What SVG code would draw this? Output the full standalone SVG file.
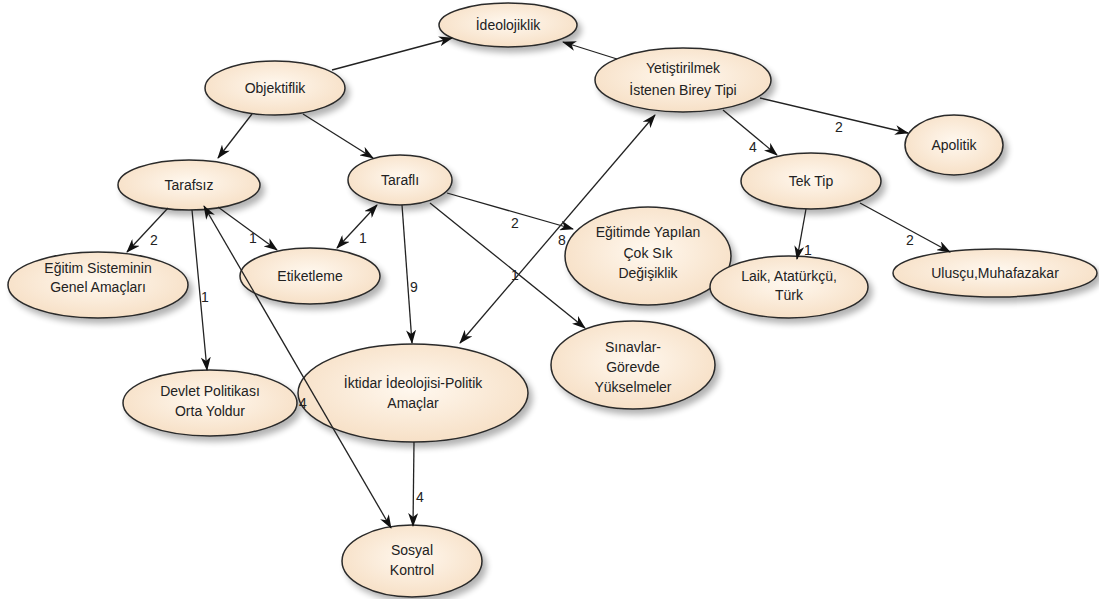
<svg xmlns="http://www.w3.org/2000/svg" width="1099" height="599" viewBox="0 0 1099 599">
<style>
.n ellipse{fill:url(#g);stroke:#2a2a2a;stroke-width:1.5;filter:url(#sh)}
.n text{font-family:"Liberation Sans",Arial,sans-serif;font-size:14px;fill:#222;text-anchor:middle}
.e line{stroke:#222;stroke-width:1.3;fill:none}
.a{marker-end:url(#ah)}
.b{marker-start:url(#as);marker-end:url(#ah)}
.lb{font-family:"Liberation Sans",Arial,sans-serif;font-size:14px;fill:#222;text-anchor:middle}
</style>
<defs>
<radialGradient id="g" cx="50%" cy="45%" r="60%">
<stop offset="0" stop-color="#fff8ef"/>
<stop offset="1" stop-color="#f6dec3"/>
</radialGradient>
<filter id="sh" x="-20%" y="-20%" width="150%" height="160%">
<feGaussianBlur in="SourceAlpha" stdDeviation="3"/>
<feOffset dx="4" dy="5" result="o"/>
<feComponentTransfer><feFuncA type="linear" slope="0.3"/></feComponentTransfer>
<feMerge><feMergeNode/><feMergeNode in="SourceGraphic"/></feMerge>
</filter>
<marker id="ah" viewBox="0 0 14 10" refX="13" refY="5" markerWidth="14" markerHeight="10" markerUnits="userSpaceOnUse" orient="auto">
<path d="M0,0 L14,5 L0,10 L4,5 z" fill="#111"/>
</marker>
<marker id="as" viewBox="0 0 14 10" refX="1" refY="5" markerWidth="14" markerHeight="10" markerUnits="userSpaceOnUse" orient="auto">
<path d="M14,0 L0,5 L14,10 L10,5 z" fill="#111"/>
</marker>
</defs>
<rect width="1099" height="599" fill="#fff"/>

<g id="nodes">
<g id="n-ideolojiklik" class="n"><ellipse cx="508" cy="25" rx="69" ry="22"/><text x="508" y="30">İdeolojiklik</text></g>
<g id="n-objektiflik" class="n"><ellipse cx="275" cy="88" rx="70" ry="27"/><text x="275" y="93">Objektiflik</text></g>
<g id="n-yetistirilmek" class="n"><ellipse cx="683" cy="80" rx="88" ry="32"/><text x="683" y="73">Yetiştirilmek</text><text x="683" y="95">İstenen Birey Tipi</text></g>
<g id="n-apolitik" class="n"><ellipse cx="954" cy="145" rx="49" ry="30"/><text x="954" y="150">Apolitik</text></g>
<g id="n-tektip" class="n"><ellipse cx="811" cy="181" rx="70" ry="28"/><text x="811" y="186">Tek Tip</text></g>
<g id="n-tarafsiz" class="n"><ellipse cx="189" cy="185" rx="71" ry="25"/><text x="189" y="190">Tarafsız</text></g>
<g id="n-tarafli" class="n"><ellipse cx="400" cy="180" rx="52" ry="25"/><text x="400" y="185">Taraflı</text></g>
<g id="n-egitimsistem" class="n"><ellipse cx="98" cy="285" rx="90" ry="33"/><text x="98" y="273">Eğitim Sisteminin</text><text x="98" y="292">Genel Amaçları</text></g>
<g id="n-etiketleme" class="n"><ellipse cx="310" cy="276" rx="70" ry="28"/><text x="310" y="281">Etiketleme</text></g>
<g id="n-degisiklik" class="n"><ellipse cx="648" cy="256" rx="83" ry="49"/><text x="648" y="237">Eğitimde Yapılan</text><text x="648" y="258">Çok Sık</text><text x="648" y="278">Değişiklik</text></g>
<g id="n-laik" class="n"><ellipse cx="789" cy="287" rx="79" ry="31"/><text x="789" y="281">Laik, Atatürkçü,</text><text x="789" y="300">Türk</text></g>
<g id="n-ulusu" class="n"><ellipse cx="995" cy="273" rx="102" ry="24"/><text x="995" y="278">Ulusçu,Muhafazakar</text></g>
<g id="n-devlet" class="n"><ellipse cx="210" cy="403" rx="87" ry="33"/><text x="210" y="396">Devlet Politikası</text><text x="210" y="416">Orta Yoldur</text></g>
<g id="n-iktidar" class="n"><ellipse cx="413" cy="393" rx="115" ry="49"/><text x="413" y="388">İktidar İdeolojisi-Politik</text><text x="413" y="408">Amaçlar</text></g>
<g id="n-sinavlar" class="n"><ellipse cx="633" cy="365" rx="82" ry="44"/><text x="633" y="352">Sınavlar-</text><text x="633" y="372">Görevde</text><text x="633" y="392">Yükselmeler</text></g>
<g id="n-sosyal" class="n"><ellipse cx="412" cy="561" rx="70" ry="36"/><text x="412" y="555">Sosyal</text><text x="412" y="575">Kontrol</text></g>
</g>

<g id="connectors" class="e">
<line class="a" x1="332" y1="70" x2="452" y2="38"/>
<line class="a" x1="617" y1="59" x2="563" y2="42"/>
<line class="a" x1="252" y1="114" x2="218" y2="158"/>
<line class="a" x1="303" y1="114" x2="373" y2="158"/>
<line class="a" x1="760" y1="98" x2="908" y2="133"/>
<line class="a" x1="723" y1="110" x2="777" y2="155"/>
<line class="a" x1="806" y1="209" x2="797" y2="259"/>
<line class="a" x1="860" y1="203" x2="950" y2="252"/>
<line class="a" x1="168" y1="208" x2="127" y2="252"/>
<line class="a" x1="218" y1="207" x2="277" y2="250"/>
<line class="a" x1="192" y1="210" x2="207" y2="370"/>
<line class="b" x1="337" y1="248" x2="377" y2="205"/>
<line class="a" x1="402" y1="205" x2="412" y2="343"/>
<line class="a" x1="447" y1="193" x2="573" y2="229"/>
<line class="a" x1="430" y1="203" x2="585" y2="328"/>
<line class="b" x1="460" y1="343" x2="655" y2="115"/>
<line class="b" x1="204" y1="206" x2="391" y2="528"/>
<line class="a" x1="414" y1="442" x2="413" y2="526"/>
<text class="lb" x="839" y="132">2</text>
<text class="lb" x="753" y="152">4</text>
<text class="lb" x="808" y="255">1</text>
<text class="lb" x="910" y="245">2</text>
<text class="lb" x="154" y="245">2</text>
<text class="lb" x="253" y="243">1</text>
<text class="lb" x="205" y="302">1</text>
<text class="lb" x="363" y="243">1</text>
<text class="lb" x="414" y="292">9</text>
<text class="lb" x="515" y="228">2</text>
<text class="lb" x="515" y="280">1</text>
<text class="lb" x="562" y="245">8</text>
<text class="lb" x="303" y="408">4</text>
<text class="lb" x="420" y="502">4</text>
</g>
</svg>
